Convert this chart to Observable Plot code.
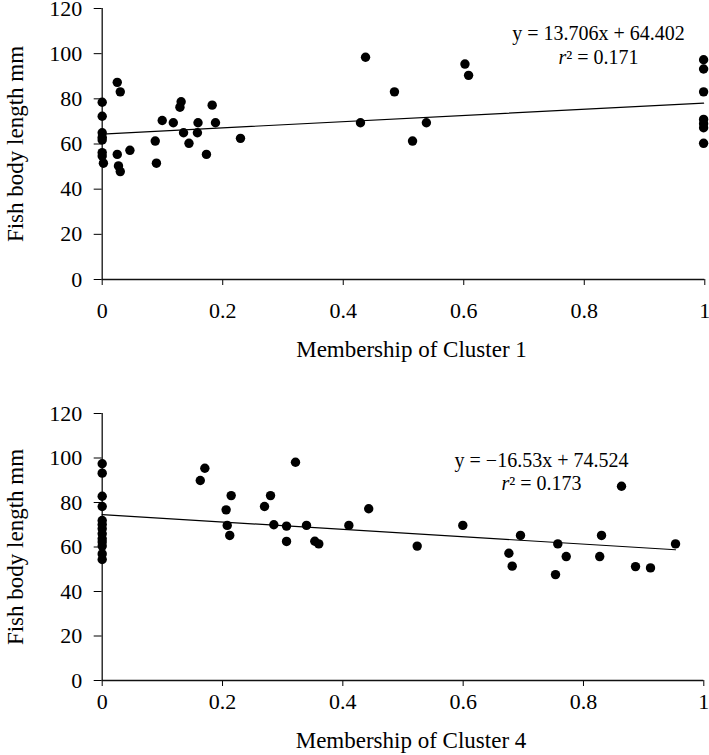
<!DOCTYPE html>
<html><head><meta charset="utf-8">
<script src="https://cdn.jsdelivr.net/npm/d3@7"></script>
<script src="https://cdn.jsdelivr.net/npm/@observablehq/plot@0.6"></script>
<style>
html,body{margin:0;padding:0;background:#fff;}
svg{display:block;}
</style>
</head><body><div id="chart"></div>
<script>
// Panel 1: Membership of Cluster 1
const c1X = [0, 0, 0, 0, 0, 0, 0, 0.002,
  0.025, 0.030, 0.025, 0.027, 0.030, 0.046,
  0.088, 0.090, 0.0996, 0.118, 0.131, 0.129, 0.135, 0.144, 0.159, 0.158, 0.173, 0.1825, 0.188, 0.2295,
  0.4286, 0.437, 0.485, 0.515, 0.538, 0.602, 0.608,
  0.998, 0.998, 0.998, 0.998, 0.998, 0.998, 0.998];
const c1Y = [78.5, 72.3, 65.0, 63.0, 61.8, 56.2, 54.7, 51.5,
  87.3, 83.1, 55.4, 50.3, 47.8, 57.2,
  61.3, 51.5, 70.4, 69.4, 78.7, 76.3, 65.0, 60.3, 69.4, 65.0, 55.4, 77.2, 69.4, 62.5,
  69.4, 98.4, 83.1, 61.3, 69.4, 95.4, 90.4,
  97.3, 93.2, 83.1, 70.9, 69.0, 67.2, 60.3];
const c1Slope = 13.706, c1Intercept = 64.402;
const c1Eq = "y = 13.706x + 64.402";
const c1R2 = "r² = 0.171";
const c1Title = "Membership of Cluster 1";

// Panel 2: Membership of Cluster 4
const c4X = [0, 0, 0, 0, 0, 0, 0, 0, 0, 0, 0, 0, 0,
  0.163, 0.1706, 0.206, 0.2144, 0.2078, 0.212, 0.2698, 0.2798, 0.2853, 0.3064, 0.3064,
  0.3213, 0.3396, 0.3534, 0.360, 0.410, 0.443, 0.5236, 0.5994,
  0.6953, 0.676, 0.6815, 0.7573, 0.7713, 0.7535, 0.830, 0.827, 0.8632, 0.8865, 0.9114, 0.953];
const c4Y = [97.4, 93.2, 82.8, 78.2, 71.9, 70.1, 68.2, 65.9, 63.7, 62.2, 60.4, 56.9, 54.4,
  89.9, 95.4, 76.7, 83.1, 69.7, 65.2, 78.2, 83.1, 70.0, 69.4, 62.5,
  98.1, 69.7, 62.6, 61.4, 69.7, 77.2, 60.4, 69.7,
  65.2, 57.2, 51.4, 61.4, 55.7, 47.6, 65.2, 55.7, 87.3, 51.2, 50.6, 61.4];
const c4Slope = -16.53, c4Intercept = 74.524;
const c4Eq = "y = \u221216.53x + 74.524";
const c4R2 = "r² = 0.173";
const c4Title = "Membership of Cluster 4";

const yTitle = "Fish body length mm";
const xTicks = [0, 0.2, 0.4, 0.6, 0.8, 1];
const yTicks = [0, 20, 40, 60, 80, 100, 120];

const FONT = "'Liberation Serif', 'Times New Roman', Times, serif";

function panel(o) {
  const data = o.xs.map((x, i) => ({x, y: o.ys[i]}));
  const [x0, x1] = d3.extent(o.xs);
  const fit = [x0, x1].map(x => ({x, y: o.slope * x + o.intercept}));
  const svg = Plot.plot({
    width: 709,
    height: o.height,
    marginLeft: 101.7,
    marginRight: o.marginRight,
    marginTop: o.marginTop,
    marginBottom: o.marginBottom,
    style: {fontFamily: FONT, fontSize: "22px", color: "#000", background: "#fff"},
    x: {domain: [0, 1], ticks: xTicks, tickFormat: d => String(d), tickSize: 6, tickPadding: o.tickPadX, label: null},
    y: {domain: [0, 120], ticks: yTicks, tickFormat: d => String(d), tickSize: 8, tickPadding: 12, label: null},
    marks: [
      Plot.ruleX([0], {stroke: "#111", strokeWidth: 1.3}),
      Plot.ruleY([0], {stroke: "#111", strokeWidth: 1.3}),
      Plot.line(fit, {x: "x", y: "y", stroke: "#000", strokeWidth: 1.2}),
      Plot.dot(data, {x: "x", y: "y", r: 4.7, fill: "#000", stroke: "none"}),
      Plot.text([o.eq], {text: d => d, frameAnchor: "top-right", dx: o.eqDx, dy: o.eqDy1, fontSize: 20, textAnchor: "middle", lineAnchor: "middle", fill: "#000"}),
      Plot.text([o.r2], {text: d => d, frameAnchor: "top-right", dx: o.eqDx, dy: o.eqDy2, fontSize: 20, textAnchor: "middle", lineAnchor: "middle", fill: "#000"}),
      Plot.text([o.title], {text: d => d, frameAnchor: "bottom", dx: 8, dy: o.titleDy, fontSize: 23, textAnchor: "middle", lineAnchor: "middle", fill: "#000"}),
      Plot.text([yTitle], {text: d => d, frameAnchor: "left", rotate: -90, dx: -87, fontSize: 23, textAnchor: "middle", lineAnchor: "middle", fill: "#000"})
    ]
  });
  svg.querySelectorAll("text").forEach(t => {
    const s = t.textContent;
    if (s.startsWith("r²")) {
      t.textContent = "";
      const ts = document.createElementNS("http://www.w3.org/2000/svg", "tspan");
      ts.setAttribute("font-style", "italic");
      ts.textContent = "r";
      t.appendChild(ts);
      t.appendChild(document.createTextNode(s.slice(1)));
    }
  });
  return svg;
}

const root = document.getElementById("chart");
root.appendChild(panel({
  xs: c1X, ys: c1Y, slope: c1Slope, intercept: c1Intercept, eq: c1Eq, r2: c1R2, title: c1Title,
  height: 370, marginTop: 8, marginBottom: 91, marginRight: 4.7, tickPadX: 16.7,
  eqDx: -106.3, eqDy1: 25.3, eqDy2: 48.7, titleDy: 70.5
}));
root.appendChild(panel({
  xs: c4X, ys: c4Y, slope: c4Slope, intercept: c4Intercept, eq: c4Eq, r2: c4R2, title: c4Title,
  height: 385, marginTop: 43, marginBottom: 75, marginRight: 5.7, tickPadX: 7.2,
  eqDx: -162.3, eqDy1: 47.3, eqDy2: 70.3, titleDy: 60
}));
</script>
</body></html>
